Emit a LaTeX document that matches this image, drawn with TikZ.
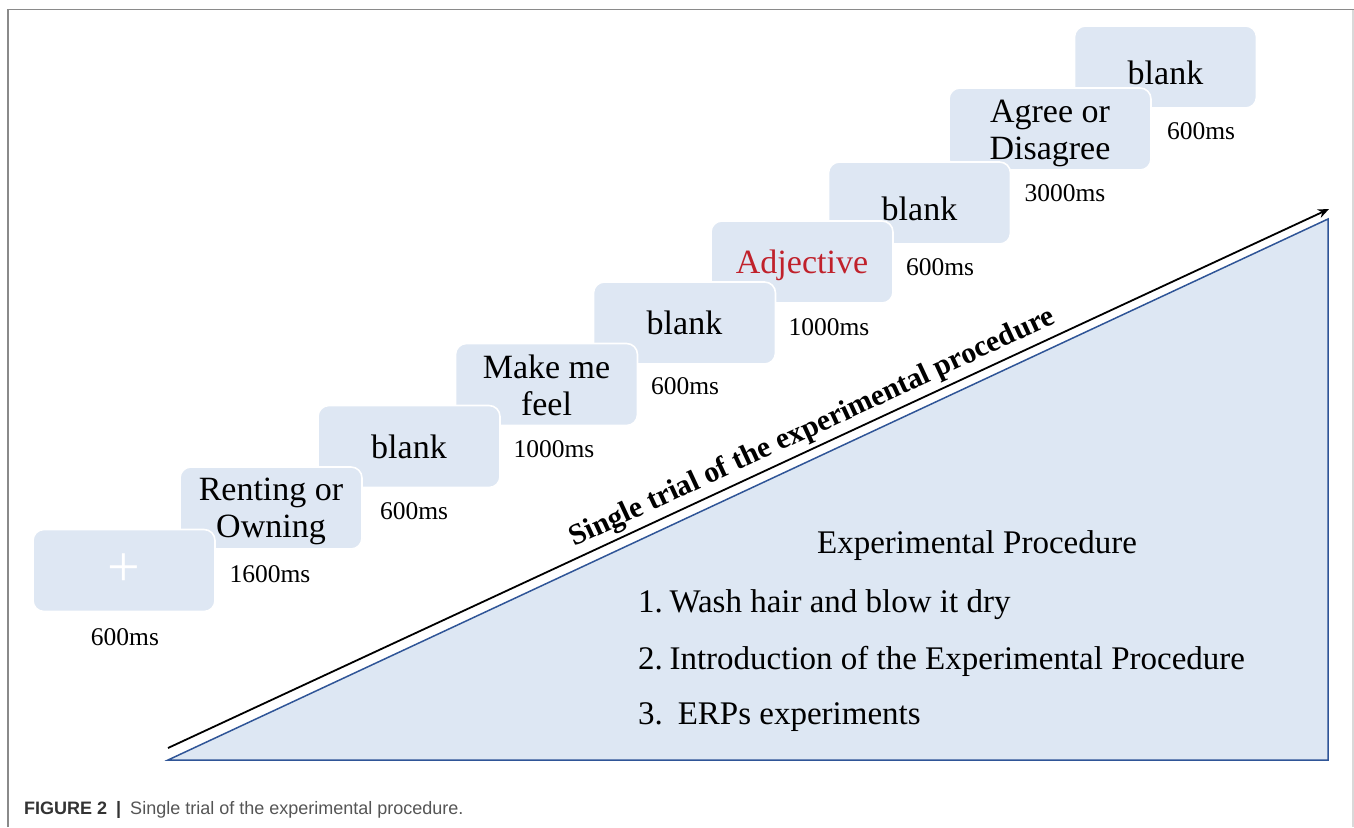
\documentclass[tikz,border=0pt]{standalone}
\usepackage{fontspec}
\setmainfont{Liberation Serif}
\newfontfamily\capfont{Liberation Sans}
\usetikzlibrary{arrows.meta}
\definecolor{boxblue}{HTML}{DEE7F3}
\definecolor{triblue}{HTML}{DDE7F3}
\definecolor{edgeblue}{HTML}{2F5597}
\definecolor{adjred}{HTML}{C0212B}
\definecolor{framegray}{HTML}{8A8A8A}
\definecolor{capgray}{HTML}{333333}
\definecolor{captext}{HTML}{555555}
\newcommand{\dn}[2]{\raisebox{-#1pt}[\height][\depth]{#2}}
\tikzset{
  trialbox/.style={draw=white, line width=1.6pt, fill=boxblue, rounded corners=11pt,
    minimum width=182pt, minimum height=82pt, inner sep=0pt, align=center,
    font=\fontsize{34}{37}\selectfont},
  timelbl/.style={inner sep=0pt, font=\fontsize{25.5}{28}\selectfont},
  proctext/.style={inner sep=0pt, font=\fontsize{33}{36}\selectfont},
}
\begin{document}
\begin{tikzpicture}[x=1pt,y=-1pt]
\useasboundingbox (0,0) rectangle (1354,827);
% frame
\draw[framegray, line width=1.3pt] (8,827) coordinate (fbl) -- (8,9.5) coordinate (ftl) -- (1354,9.5) coordinate (ftr);
\draw[black!15, line width=1.2pt] (1353,9.5) coordinate (frt) -- (1353,827) coordinate (frb);
% triangle
\coordinate (ta) at (168,760);
\coordinate (tb) at (1328,760);
\coordinate (tc) at (1328,219);
\draw[edgeblue, line width=1.5pt, fill=triblue, line join=miter] (ta) -- (tb) -- (tc) -- cycle;
% arrow
\coordinate (as) at (168,748);
\coordinate (ae) at (1329,209);
\draw[line width=1.8pt, -{Stealth[length=11pt,width=9pt]}] (as) -- (ae)
  node[pos=0.562, sloped, above, inner sep=0pt, yshift=4pt,
       font=\fontsize{29.8}{32}\selectfont\bfseries] (arrowlbl) {Single trial of the experimental procedure};
% boxes (later steps first, so earlier ones lie on top)
\node[trialbox] (b9) at (1165.5,67) {\dn{6}{blank}};
\node[trialbox, minimum width=202pt] (b8) at (1050,129) {\dn{4}{Agree or}\\\dn{4}{Disagree}};
\node[trialbox] (b7) at (919.5,203) {\dn{6}{blank}};
\node[trialbox, text=adjred] (b6) at (802,262) {\dn{3}{Adjective}};
\node[trialbox] (b5) at (684.5,323) {blank};
\node[trialbox] (b4) at (546.5,384.5) {\dn{1}{Make me}\\\dn{1}{feel}};
\node[trialbox] (b3) at (409,446.5) {blank};
\node[trialbox] (b2) at (271,508) {\dn{3}{Renting or}\\\dn{3}{Owning}};
\node[trialbox, text=white, font=\fontsize{58}{58}\selectfont] (b1) at (124,570.5) {+};
% time labels
\node[timelbl] (t1) at (125,637) {600ms};
\node[timelbl] (t2) at (270,574) {1600ms};
\node[timelbl] (t3) at (414,511) {600ms};
\node[timelbl] (t4) at (554,449) {1000ms};
\node[timelbl] (t5) at (685,386) {600ms};
\node[timelbl] (t6) at (829,327) {1000ms};
\node[timelbl] (t7) at (940,267) {600ms};
\node[timelbl] (t8) at (1065,193) {3000ms};
\node[timelbl] (t9) at (1201,131) {600ms};
% procedure text
\node[proctext] (ptitle) at (977,546) {Experimental Procedure};
\node[proctext, anchor=west] (p1) at (638,605) {1.\hspace{0.2em}Wash hair and blow it dry};
\node[proctext, anchor=west] (p2) at (638,661) {2.\hspace{0.2em}Introduction of the Experimental Procedure};
\node[proctext, anchor=west] (p3) at (638,717) {3.\hspace{0.45em}ERPs experiments};
% caption
\node[anchor=west, inner sep=0pt, font=\capfont\fontsize{18}{22}\selectfont] (cap) at (24,810)
  {\textcolor{capgray}{\bfseries FIGURE 2}\enspace\textcolor{capgray}{\bfseries|}\enspace\textcolor{captext}{Single trial of the experimental procedure.}};
\end{tikzpicture}
\end{document}
